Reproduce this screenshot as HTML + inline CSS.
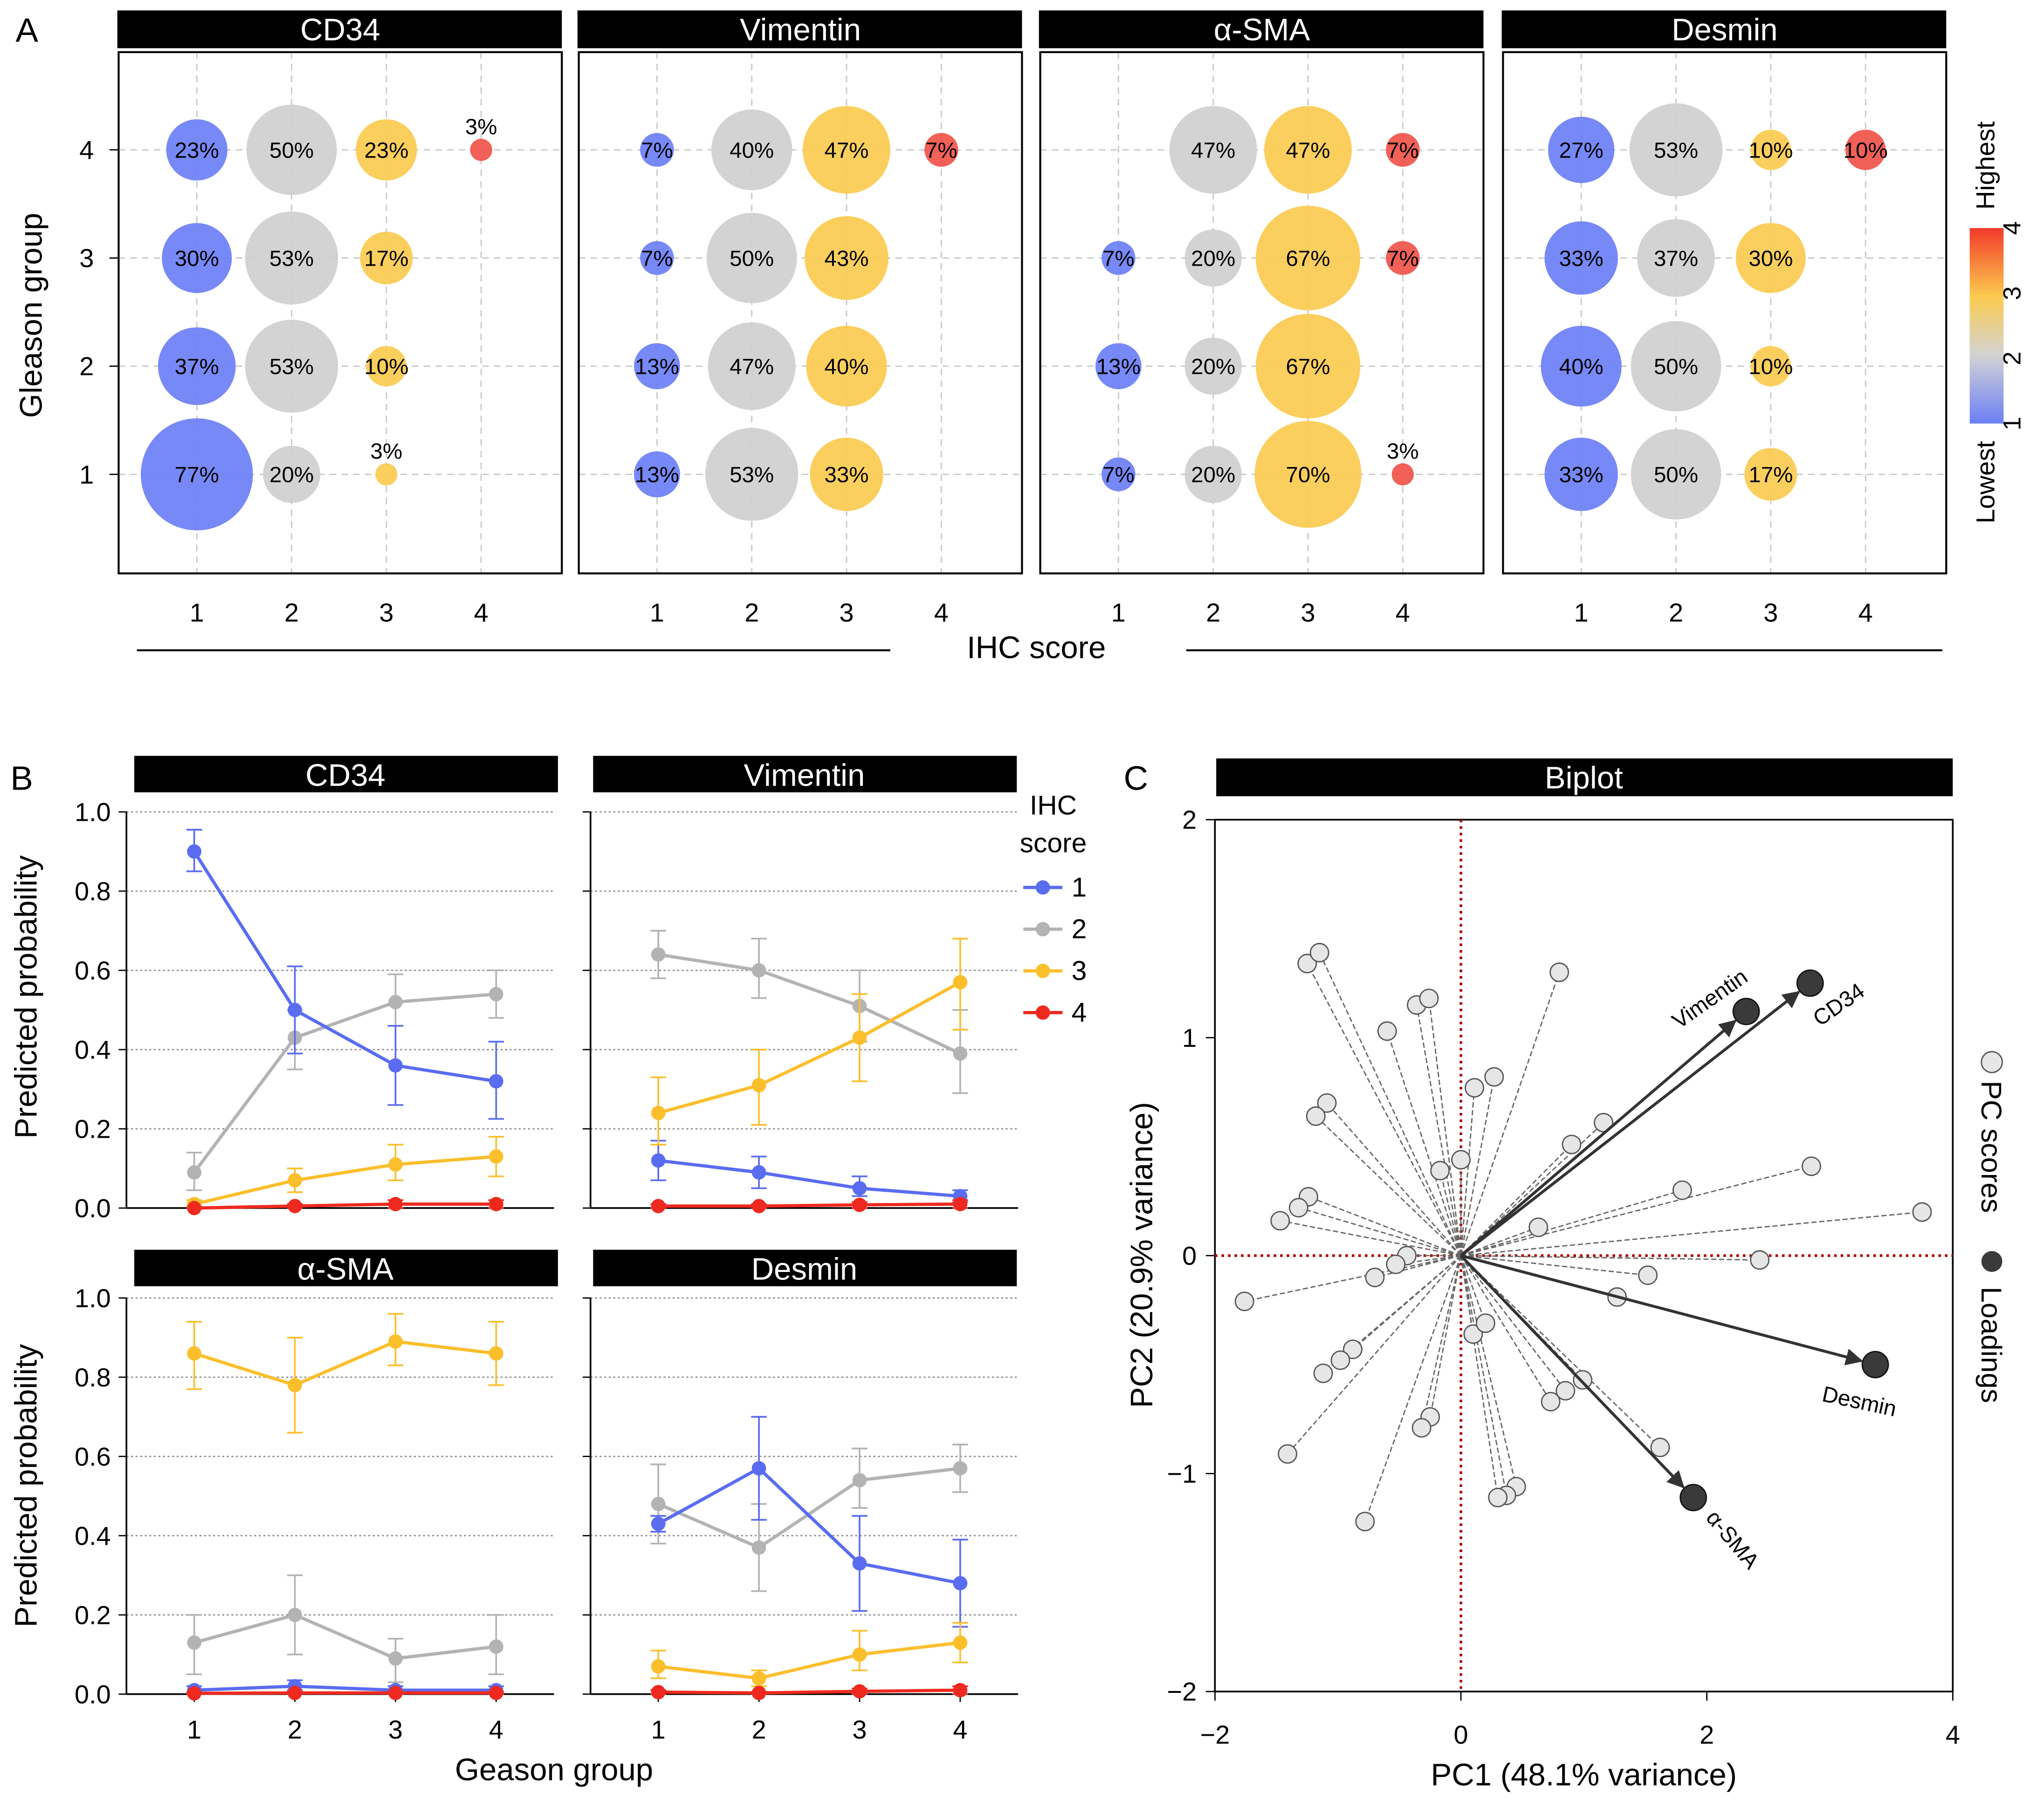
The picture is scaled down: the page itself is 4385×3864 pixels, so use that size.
<!DOCTYPE html>
<html><head><meta charset="utf-8"><style>
html,body{margin:0;padding:0;background:#fff}
svg{display:block;font-family:"Liberation Sans",Arial,sans-serif}
</style></head><body>
<svg id="fig" xmlns="http://www.w3.org/2000/svg" width="4385" height="3864" viewBox="0 0 1568 1382" preserveAspectRatio="none">
<defs>
<linearGradient id="cb" x1="0" y1="1" x2="0" y2="0">
<stop offset="0" stop-color="#6b7ff5"/><stop offset="0.35" stop-color="#d3d3d3"/><stop offset="0.65" stop-color="#fbcb4f"/><stop offset="1" stop-color="#f23a2a"/>
</linearGradient>
<marker id="ah" viewBox="0 0 10 10" refX="9" refY="5" markerWidth="6" markerHeight="6" orient="auto"><path d="M0,0L10,5L0,10z" fill="#333"/></marker>
</defs>
<g id="root"></g>
</svg>
<script>
// ===== Panel A data =====
const aMarkers = ["CD34","Vimentin","α-SMA","Desmin"];
const aGroups = [4,3,2,1];
const aCD34 = [[23,50,23,3],[30,53,17,0],[37,53,10,0],[77,20,3,0]];
const aVimentin = [[7,40,47,7],[7,50,43,0],[13,47,40,0],[13,53,33,0]];
const aSMA = [[0,47,47,7],[7,20,67,7],[13,20,67,0],[7,20,70,3]];
const aDesmin = [[27,53,10,10],[33,37,30,0],[40,50,10,0],[33,50,17,0]];
const aScores = [1,2,3,4];
// ===== Panel B data =====
const bGroups = [1,2,3,4];
const bTicks = [0,0.2,0.4,0.6,0.8,1.0];
const bCD34_v = [[0.90,0.50,0.36,0.32],[0.09,0.43,0.52,0.54],[0.01,0.07,0.11,0.13],[0.00,0.005,0.01,0.01]];
const bCD34_lo = [[0.85,0.39,0.26,0.225],[0.045,0.35,0.46,0.48],[0.005,0.04,0.07,0.08],[0,0,0,0]];
const bCD34_hi = [[0.955,0.61,0.46,0.42],[0.14,0.50,0.59,0.60],[0.02,0.10,0.16,0.18],[0,0.01,0.02,0.02]];
const bVim_v = [[0.12,0.09,0.05,0.03],[0.64,0.60,0.51,0.39],[0.24,0.31,0.43,0.57],[0.005,0.005,0.008,0.01]];
const bVim_lo = [[0.07,0.05,0.03,0.015],[0.58,0.53,0.42,0.29],[0.16,0.21,0.32,0.45],[0,0,0,0]];
const bVim_hi = [[0.17,0.13,0.08,0.045],[0.70,0.68,0.60,0.50],[0.33,0.40,0.54,0.68],[0.01,0.01,0.015,0.02]];
const bSMA_v = [[0.01,0.02,0.01,0.01],[0.13,0.20,0.09,0.12],[0.86,0.78,0.89,0.86],[0.002,0.003,0.003,0.003]];
const bSMA_lo = [[0.005,0.01,0.005,0.005],[0.05,0.10,0.03,0.05],[0.77,0.66,0.83,0.78],[0,0,0,0]];
const bSMA_hi = [[0.02,0.035,0.02,0.02],[0.20,0.30,0.14,0.20],[0.94,0.90,0.96,0.94],[0.005,0.006,0.006,0.006]];
const bDes_v = [[0.43,0.57,0.33,0.28],[0.48,0.37,0.54,0.57],[0.07,0.04,0.10,0.13],[0.005,0.003,0.007,0.01]];
const bDes_lo = [[0.41,0.44,0.21,0.17],[0.38,0.26,0.47,0.51],[0.04,0.02,0.06,0.08],[0,0,0,0]];
const bDes_hi = [[0.45,0.70,0.45,0.39],[0.58,0.48,0.62,0.63],[0.11,0.06,0.16,0.18],[0.01,0.006,0.014,0.02]];
// ===== Panel C data =====
const cScoresX = [-1.25,-1.15,0.80,-0.36,-0.26,-0.60,0.11,0.27,0.00,-0.17,-1.09,-1.18,1.16,0.90,2.85,1.80,-1.24,-1.32,-1.47,0.63,-0.44,-0.53,-0.70,2.43,3.75,-1.76,1.52,1.27,0.10,0.20,0.99,0.85,0.73,-0.88,-0.98,-1.12,-0.25,-0.32,1.62,0.45,0.37,0.30,-1.41,-0.78];
const cScoresY = [1.34,1.39,1.30,1.15,1.18,1.03,0.77,0.82,0.44,0.39,0.70,0.64,0.61,0.51,0.41,0.30,0.27,0.22,0.16,0.13,0.00,-0.04,-0.10,-0.02,0.20,-0.21,-0.09,-0.19,-0.36,-0.31,-0.57,-0.62,-0.67,-0.43,-0.48,-0.54,-0.74,-0.79,-0.88,-1.06,-1.10,-1.11,-0.91,-1.22];
const cLoadNames = ["CD34","Vimentin","Desmin","α-SMA"];
const cLoadX = [2.84,2.32,3.37,1.89];
const cLoadY = [1.25,1.12,-0.50,-1.11];
const cTicksX = [-2,0,2,4];
const cTicksY = [-2,-1,0,1,2];

const NS="http://www.w3.org/2000/svg";
const root=document.getElementById('root');
function el(tag,attrs,parent,text){const e=document.createElementNS(NS,tag);for(const k in attrs)e.setAttribute(k,attrs[k]);if(text!==undefined)e.textContent=text;(parent||root).appendChild(e);return e;}
const COL=["#6b7ff5","#cfcfcf","#fbcb4f","#f0544a"];
const LCOL=["#5a6cf0","#b3b3b3","#fbbf2c","#ee2a20"];

// Panel letters
let t;
t=el('text',{x:12,y:32,'font-size':26},root,'A');
t=el('text',{x:8,y:606,'font-size':26},root,'B');
t=el('text',{x:862,y:606,'font-size':26},root,'C');

// ===== Panel A =====
const aData=[aCD34,aVimentin,aSMA,aDesmin];
const aX0=[91,444,798,1153];
function aX(p,s){return aX0[p]+60+(s-1)*72.7;}
function aY(g){return 364-(g-1)*83;}
aMarkers.forEach((m,p)=>{
  const g=el('g',{});
  
  
  const hb=el('rect',{x:aX0[p]-1,y:8,width:341,height:29,fill:'#000'},g);
  
  el('text',{x:aX0[p]+170,y:31,'font-size':24,fill:'#fff','text-anchor':'middle'},g,m);
  for(const s of aScores) el('line',{x1:aX(p,s),x2:aX(p,s),y1:40,y2:440,stroke:'#c8c8c8','stroke-dasharray':'5,4'},g);
  for(const gg of aGroups) el('line',{x1:aX0[p],x2:aX0[p]+340,y1:aY(gg),y2:aY(gg),stroke:'#c8c8c8','stroke-dasharray':'5,4'},g);
  const bx=el('rect',{x:aX0[p],y:40,width:340,height:400,fill:'none',stroke:'#000','stroke-width':1.5},g);
  
  aGroups.forEach((gg,gi)=>{
    aData[p][gi].forEach((v,si)=>{
      if(v<=0)return;
      const cx=aX(p,aScores[si]),cy=aY(gg),r=49*Math.sqrt(v/100);
      const c=el('circle',{cx:cx,cy:cy,r:r,fill:COL[si],'fill-opacity':0.92},g);
      
      
      if(v<5) el('text',{x:cx,y:cy-12,'font-size':17,'text-anchor':'middle'},g,v+'%');
      else el('text',{x:cx,y:cy+6,'font-size':17,'text-anchor':'middle'},g,v+'%');
    });
  });
  for(const s of aScores) el('text',{x:aX(p,s),y:477,'font-size':20,'text-anchor':'middle'},g,String(s));
});
for(const gg of aGroups){el('line',{x1:84,x2:91,y1:aY(gg),y2:aY(gg),stroke:'#000'});el('text',{x:72,y:aY(gg)+7,'font-size':20,'text-anchor':'end'},root,String(gg));}
t=el('text',{x:32,y:242,'font-size':24,'text-anchor':'middle',transform:'rotate(-90 32 242)'},root,'Gleason group');
el('line',{x1:105,x2:683,y1:499,y2:499,stroke:'#000','stroke-width':1.5});
el('line',{x1:910,x2:1490,y1:499,y2:499,stroke:'#000','stroke-width':1.5});
t=el('text',{x:795,y:505,'font-size':24,'text-anchor':'middle'},root,'IHC score');
// colorbar
const cbr=el('rect',{x:1511,y:175,width:26,height:150,fill:'url(#cb)'});
[4,3,2,1].forEach((v,i)=>{const yy=175+i*50;el('text',{x:1550,y:yy,'font-size':19,'text-anchor':'middle',transform:'rotate(-90 1550 '+yy+')'},root,String(v));});
el('text',{x:1530,y:127,'font-size':20,'text-anchor':'middle',transform:'rotate(-90 1530 127)'},root,'Highest');
el('text',{x:1530,y:370,'font-size':20,'text-anchor':'middle',transform:'rotate(-90 1530 370)'},root,'Lowest');

// ===== Panel B =====
const bPanels=[
 {name:'CD34',v:bCD34_v,lo:bCD34_lo,hi:bCD34_hi,x0:97,hx:103,top:623,bot:927,hy:580,left:true},
 {name:'Vimentin',v:bVim_v,lo:bVim_lo,hi:bVim_hi,x0:453,hx:455,top:623,bot:927,hy:580,left:false},
 {name:'α-SMA',v:bSMA_v,lo:bSMA_lo,hi:bSMA_hi,x0:97,hx:103,top:996,bot:1300,hy:959,left:true},
 {name:'Desmin',v:bDes_v,lo:bDes_lo,hi:bDes_hi,x0:453,hx:455,top:996,bot:1300,hy:959,left:false}];
bPanels.forEach(P=>{
  const g=el('g',{});
  
  
  const hb=el('rect',{x:P.hx,y:P.hy,width:325,height:28,fill:'#000'},g);
  
  el('text',{x:P.hx+162,y:P.hy+23,'font-size':24,fill:'#fff','text-anchor':'middle'},g,P.name);
  const X=gr=>P.x0+52+(gr-1)*77.2, Y=v=>P.bot-v*(P.bot-P.top);
  bTicks.forEach(tk=>{ if(tk>0) el('line',{x1:P.x0,x2:P.x0+328,y1:Y(tk),y2:Y(tk),stroke:'#888','stroke-dasharray':'1.5,2'},g);
    el('line',{x1:P.x0-6,x2:P.x0,y1:Y(tk),y2:Y(tk),stroke:'#000'},g);
    if(P.left) el('text',{x:P.x0-12,y:Y(tk)+7,'font-size':20,'text-anchor':'end'},g,tk.toFixed(1)); });
  el('line',{x1:P.x0,x2:P.x0,y1:P.top,y2:P.bot,stroke:'#000','stroke-width':1.3},g);
  el('line',{x1:P.x0,x2:P.x0+328,y1:P.bot,y2:P.bot,stroke:'#000','stroke-width':1.3},g);
  if(P.bot>1000) bGroups.forEach(gr=>{el('line',{x1:X(gr),x2:X(gr),y1:P.bot,y2:P.bot+6,stroke:'#000'},g);el('text',{x:X(gr),y:P.bot+34,'font-size':20,'text-anchor':'middle'},g,String(gr));});
  [1,0,2,3].forEach(s=>{
    const pts=bGroups.map((gr,i)=>X(gr)+','+Y(P.v[s][i])).join(' ');
    const pl=el('polyline',{points:pts,fill:'none',stroke:LCOL[s],'stroke-width':2.5},g);
    
    
    bGroups.forEach((gr,i)=>{
      const x=X(gr);
      el('line',{x1:x,x2:x,y1:Y(P.lo[s][i]),y2:Y(P.hi[s][i]),stroke:LCOL[s],'stroke-width':1.3},g);
      el('line',{x1:x-6,x2:x+6,y1:Y(P.lo[s][i]),y2:Y(P.lo[s][i]),stroke:LCOL[s],'stroke-width':1.3},g);
      el('line',{x1:x-6,x2:x+6,y1:Y(P.hi[s][i]),y2:Y(P.hi[s][i]),stroke:LCOL[s],'stroke-width':1.3},g);
      const c=el('circle',{cx:x,cy:Y(P.v[s][i]),r:5.5,fill:LCOL[s]},g);
      
      
    });
  });
});
t=el('text',{x:28,y:765,'font-size':24,'text-anchor':'middle',transform:'rotate(-90 28 765)'},root,'Predicted probability');
t=el('text',{x:28,y:1140,'font-size':24,'text-anchor':'middle',transform:'rotate(-90 28 1140)'},root,'Predicted probability');
t=el('text',{x:425,y:1366,'font-size':24,'text-anchor':'middle'},root,'Geason group');
// legend
const lg=el('g',{});
el('text',{x:808,y:625,'font-size':21,'text-anchor':'middle'},lg,'IHC');
el('text',{x:808,y:654,'font-size':21,'text-anchor':'middle'},lg,'score');
[0,1,2,3].forEach(s=>{const yy=681+s*32;
  const le=el('g',{},lg);
  el('line',{x1:785,x2:815,y1:yy,y2:yy,stroke:LCOL[s],'stroke-width':2.5},le);
  el('circle',{cx:800,cy:yy,r:5.5,fill:LCOL[s]},le);
  el('text',{x:822,y:yy+7,'font-size':21},le,String(s+1));});

// ===== Panel C =====
const cg=el('g',{});
const CX=v=>1120.7+v*94.33, CY=v=>963.5-v*167.25;
const hb=el('rect',{x:933,y:582,width:565,height:29,fill:'#000'},cg);
el('text',{x:1215,y:605,'font-size':24,fill:'#fff','text-anchor':'middle'},cg,'Biplot');
el('rect',{x:932,y:629,width:566,height:669,fill:'none',stroke:'#000','stroke-width':1.3},cg);
el('line',{x1:CX(0),x2:CX(0),y1:629,y2:1298,stroke:'#a00','stroke-width':2,'stroke-dasharray':'2,3'},cg);
el('line',{x1:932,x2:1498,y1:CY(0),y2:CY(0),stroke:'#a00','stroke-width':2,'stroke-dasharray':'2,3'},cg);
cTicksX.forEach(v=>{el('line',{x1:CX(v),x2:CX(v),y1:1298,y2:1305,stroke:'#000'},cg);el('text',{x:CX(v),y:1338,'font-size':20,'text-anchor':'middle'},cg,(v<0?'\u2212'+(-v):String(v)));});
cTicksY.forEach(v=>{el('line',{x1:925,x2:932,y1:CY(v),y2:CY(v),stroke:'#000'},cg);el('text',{x:918,y:CY(v)+7,'font-size':20,'text-anchor':'end'},cg,(v<0?'\u2212'+(-v):String(v)));});
cScoresX.forEach((x,i)=>{el('line',{x1:CX(0),y1:CY(0),x2:CX(x),y2:CY(cScoresY[i]),stroke:'#666','stroke-width':1,'stroke-dasharray':'4,2'},cg);});
cScoresX.forEach((x,i)=>{const c=el('circle',{cx:CX(x),cy:CY(cScoresY[i]),r:7,fill:'#e6e6e6',stroke:'#555','stroke-width':1},cg);
  
  });
cLoadX.forEach((x,i)=>{
  const ex=CX(x),ey=CY(cLoadY[i]),dx=ex-CX(0),dy=ey-CY(0),L=Math.hypot(dx,dy);
  const ax=ex-dx/L*11,ay=ey-dy/L*11;
  el('line',{x1:CX(0),y1:CY(0),x2:ax,y2:ay,stroke:'#333','stroke-width':2.2,'marker-end':'url(#ah)'},cg);
  const c=el('circle',{cx:ex,cy:ey,r:10,fill:'#3a3a3a',stroke:'#111'},cg);
  
  
});
el('text',{x:1396,y:788,'font-size':17,transform:'rotate(-35 1396 788)'},cg,'CD34');
el('text',{x:1288,y:790,'font-size':17,transform:'rotate(-35 1288 790)'},cg,'Vimentin');
el('text',{x:1397,y:1075,'font-size':17,transform:'rotate(12 1397 1075)'},cg,'Desmin');
el('text',{x:1308,y:1165,'font-size':17,transform:'rotate(50 1308 1165)'},cg,'α-SMA');
t=el('text',{x:1215,y:1370,'font-size':24,'text-anchor':'middle'},root,'PC1 (48.1% variance)');
t=el('text',{x:884,y:963,'font-size':24,'text-anchor':'middle',transform:'rotate(-90 884 963)'},root,'PC2 (20.9% variance)');
const cl=el('g',{});
el('circle',{cx:1528,cy:815,r:8,fill:'#e6e6e6',stroke:'#555'},cl);
el('text',{x:1520,y:880,'font-size':22,'text-anchor':'middle',transform:'rotate(90 1520 880)'},cl,'PC scores');
el('circle',{cx:1528,cy:968,r:8,fill:'#3a3a3a'},cl);
el('text',{x:1520,y:1032,'font-size':22,'text-anchor':'middle',transform:'rotate(90 1520 1032)'},cl,'Loadings');
</script>
</body></html>
